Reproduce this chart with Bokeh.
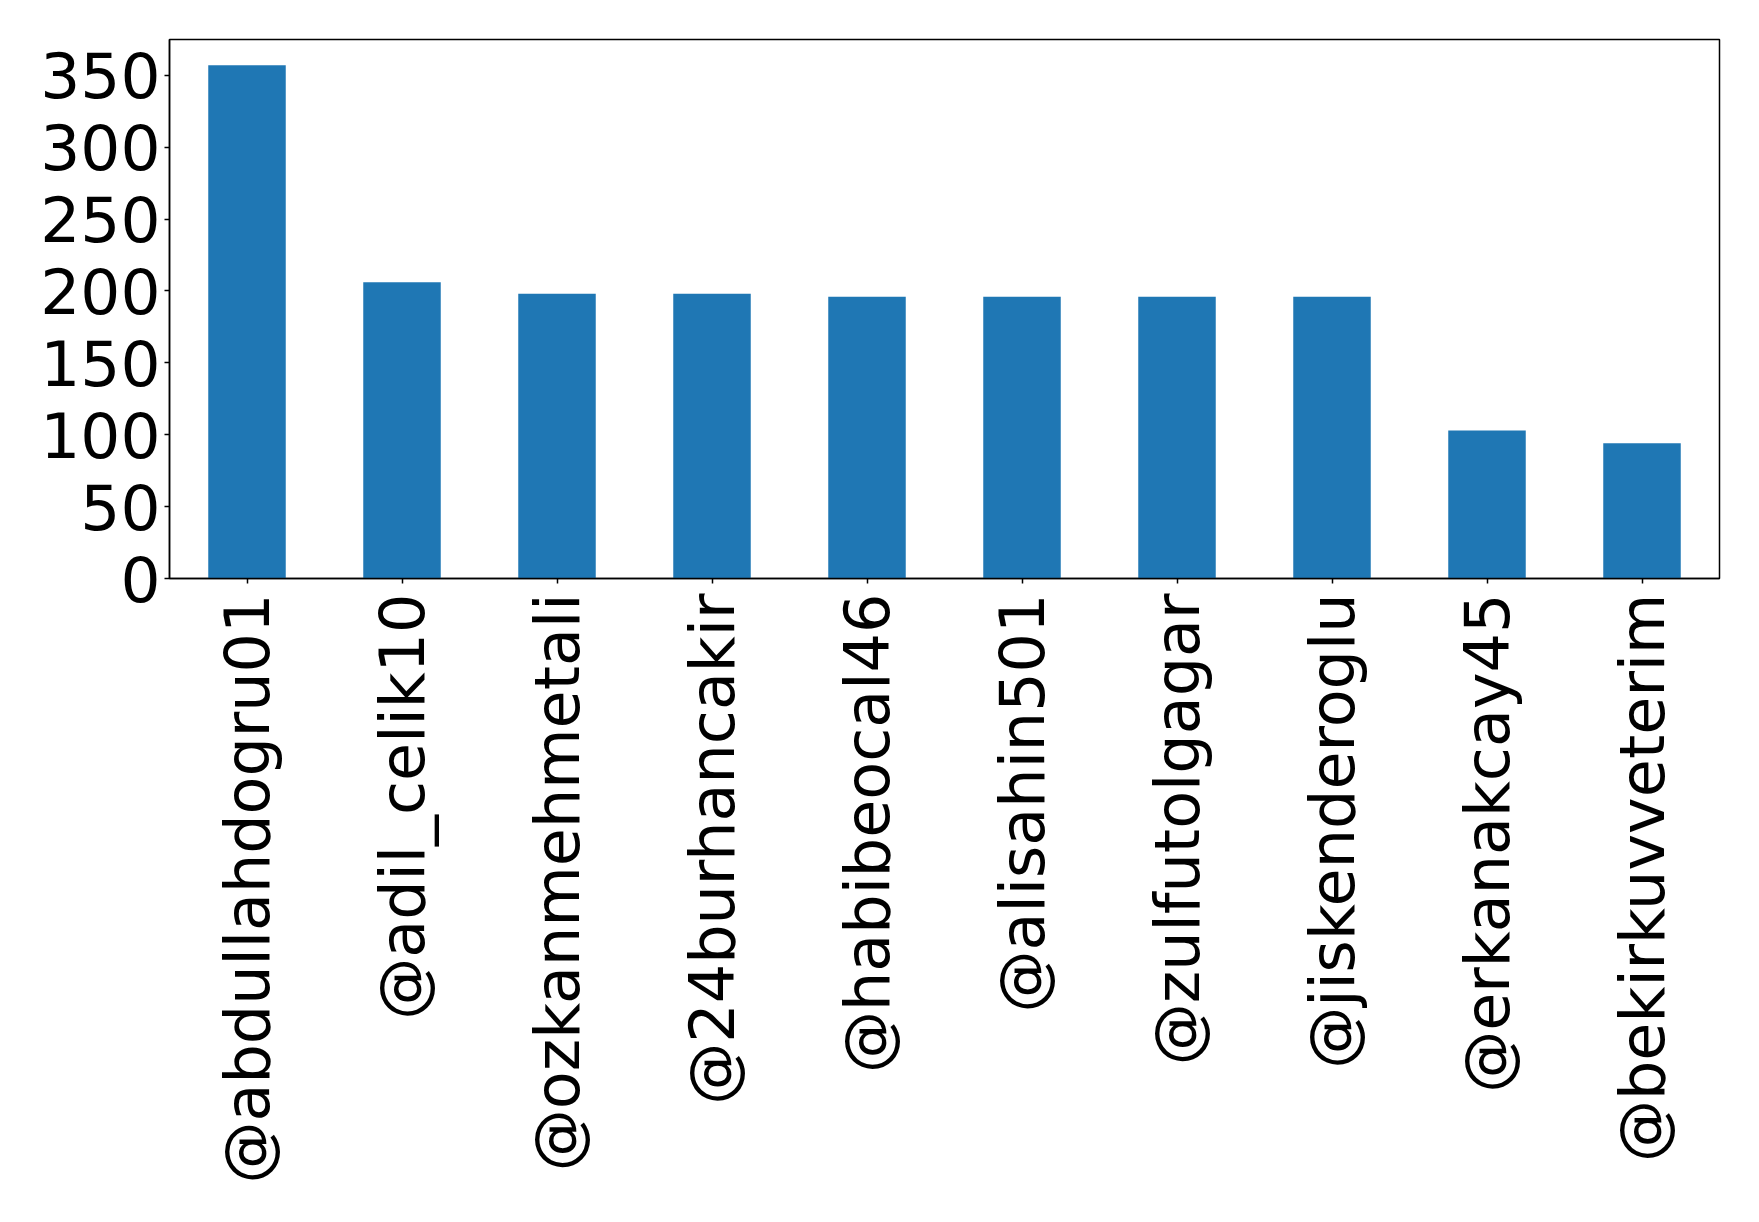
import math
from bokeh.plotting import figure
from bokeh.models import ColumnDataSource, Range1d, FactorRange, FixedTicker
from bokeh.embed import file_html
from bokeh.resources import INLINE

users = ["@abdullahdogru01", "@adil_celik10", "@ozkanmehmetali", "@24burhancakir",
         "@habibeocal46", "@alisahin501", "@zulfutolgagar", "@jiskenderoglu",
         "@erkanakcay45", "@bekirkuvveterim"]
counts = [357, 206, 198, 198, 196, 196, 196, 196, 103, 94]
y_ticks = [0, 50, 100, 150, 200, 250, 300, 350]

src = ColumnDataSource(dict(user=users, count=counts))

W, H = 1743, 1206
p = figure(width=W, height=H, x_range=FactorRange(*users),
           y_range=Range1d(0, max(counts) * 1.05),
           output_backend="svg", toolbar_location=None,
           min_border_left=169, min_border_top=39, min_border_right=24,
           min_border_bottom=628)
p.vbar(x="user", top="count", width=0.5, source=src,
       fill_color="#1f77b4", line_color=None)

p.x_range.range_padding = 0
p.grid.visible = False
p.outline_line_color = "black"
p.outline_line_width = 1.5
p.background_fill_color = "white"
p.border_fill_color = "white"

for ax in (p.xaxis[0], p.yaxis[0]):
    ax.axis_line_color = "black"
    ax.axis_line_width = 1.5
    ax.major_tick_line_color = "black"
    ax.major_tick_line_width = 1.5
    ax.major_tick_out = 5
    ax.major_tick_in = 0
    ax.minor_tick_line_color = None
    ax.major_label_text_font = "DejaVu Sans"
    ax.major_label_text_font_size = "63px"
    ax.major_label_text_color = "black"

p.xaxis.major_label_text_font_size = "62px"
p.yaxis.ticker = FixedTicker(ticks=y_ticks)
p.yaxis.major_label_standoff = 4
p.xaxis.major_label_orientation = math.pi / 2
p.xaxis.major_label_standoff = 10

open("out.html", "w").write(file_html(p, INLINE))
